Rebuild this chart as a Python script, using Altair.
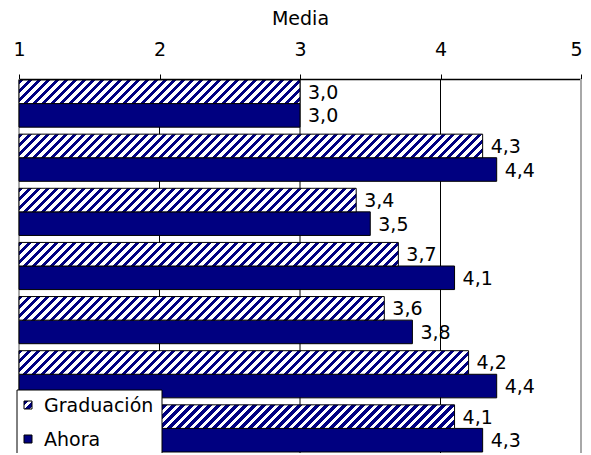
import altair as alt

# ---- data ----
CATS = ["1", "2", "3", "4", "5", "6", "7"]
SERIES = ["Graduación", "Ahora"]
GRAD = [3.0, 4.3, 3.4, 3.7, 3.6, 4.2, 4.1]
AHORA = [3.0, 4.4, 3.5, 4.1, 3.8, 4.4, 4.3]
TICKS = [1, 2, 3, 4, 5]
GRID_DARK = [2, 3, 4]
GRID_LIGHT = [1, 5]
X_MIN, X_MAX = 1, 5

# ---- style / layout ----
NAVY = "#000080"
FONT = "DejaVu Sans"
FS = 19
W = 562
H = 374
PI = 0.129
PO = 0.0185

step = H / (len(CATS) - PI + 2 * PO)
bar_h = step * (1 - PI) / 2
px = W / (X_MAX - X_MIN)


def hatch(w, h, period=9.0, frac=0.47, c=1.0):
    k = h / w
    dx = (1 + c * k) / (1 + c * c * k * k)
    dy = c * k * dx
    total = w + c * h
    n = total / period
    stops = []
    i = 0
    while i < n:
        a = round(i / n, 5)
        b = round(min((i + frac) / n, 1), 5)
        e = round(min((i + 1) / n, 1), 5)
        stops += [
            {"offset": a, "color": NAVY},
            {"offset": b, "color": NAVY},
            {"offset": b, "color": "white"},
            {"offset": e, "color": "white"},
        ]
        i += 1
    return {"gradient": "linear", "x1": 0, "y1": 0, "x2": dx, "y2": dy, "stops": stops}


rows = []
for c, g, a in zip(CATS, GRAD, AHORA):
    rows.append({"c": c, "s": SERIES[0], "v": g})
    rows.append({"c": c, "s": SERIES[1], "v": a})

x_scale = alt.Scale(domain=[X_MIN, X_MAX], nice=False, zero=False)
x_axis = alt.Axis(
    orient="top", values=TICKS, title="Media", grid=False, format="d",
    domainColor="black", domainWidth=1.5, tickColor="black", tickSize=5,
    labelFont=FONT, labelFontSize=FS, labelColor="black", labelPadding=15,
    labelFlush=False, labelBound=False,
    labelOffset={"condition": {"test": f"datum.value == {X_MAX}", "value": -5}, "value": 0},
    titleFont=FONT, titleFontSize=FS, titleFontWeight="normal",
    titleColor="black", titlePadding=12,
)
y_enc = alt.Y("c:N", scale=alt.Scale(domain=CATS, paddingInner=PI, paddingOuter=PO), axis=None)
yo_enc = alt.YOffset("s:N", scale=alt.Scale(domain=SERIES))

grid_dark = alt.Chart(alt.Data(values=[{"g": g} for g in GRID_DARK])).mark_rule(
    color="black", strokeWidth=1
).encode(x=alt.X("g:Q", scale=x_scale, axis=x_axis))

grid_light = alt.Chart(alt.Data(values=[{"g": g} for g in GRID_LIGHT])).mark_rule(
    color="#a8a8a8", strokeWidth=2
).encode(x=alt.X("g:Q", scale=x_scale, axis=x_axis))

solid = alt.Chart(alt.Data(values=rows)).transform_filter(
    alt.datum.s == SERIES[1]
).mark_bar(fill=NAVY, stroke="black", strokeWidth=1).encode(
    x=alt.X("v:Q", scale=x_scale, axis=x_axis), x2=alt.datum(X_MIN), y=y_enc, yOffset=yo_enc
)

hatched = []
for c, g in zip(CATS, GRAD):
    hatched.append(
        alt.Chart(alt.Data(values=[{"c": c, "s": SERIES[0], "v": g}])).mark_bar(
            fill=hatch((g - X_MIN) * px, bar_h), stroke="black", strokeWidth=1
        ).encode(
            x=alt.X("v:Q", scale=x_scale, axis=x_axis), x2=alt.datum(X_MIN), y=y_enc, yOffset=yo_enc
        )
    )

labels = alt.Chart(alt.Data(values=rows)).transform_calculate(
    label="replace(format(datum.v, '.1f'), '.', ',')"
).mark_text(align="left", baseline="middle", dx=8, dy=1, font=FONT, fontSize=FS, color="black").encode(
    x=alt.X("v:Q", scale=x_scale, axis=x_axis), y=y_enc, yOffset=yo_enc, text="label:N"
)

one = alt.Data(values=[{"k": 0}])
leg_box = alt.Chart(one).mark_rect(fill="white", stroke="black", strokeWidth=1).encode(
    x=alt.value(-2), x2=alt.value(143), y=alt.value(311), y2=alt.value(400)
)
leg_sw1 = alt.Chart(one).mark_rect(fill=hatch(8, 8, period=9, frac=0.5), stroke="black", strokeWidth=1).encode(
    x=alt.value(5), x2=alt.value(13), y=alt.value(322), y2=alt.value(330)
)
leg_sw2 = alt.Chart(one).mark_rect(fill=NAVY, stroke="black", strokeWidth=1).encode(
    x=alt.value(5), x2=alt.value(13), y=alt.value(356), y2=alt.value(364)
)
leg_t1 = alt.Chart(one).mark_text(align="left", baseline="middle", font=FONT, fontSize=FS, color="black").encode(
    x=alt.value(25), y=alt.value(327), text=alt.value(SERIES[0])
)
leg_t2 = alt.Chart(one).mark_text(align="left", baseline="middle", font=FONT, fontSize=FS, color="black").encode(
    x=alt.value(25), y=alt.value(361), text=alt.value(SERIES[1])
)

chart = alt.layer(
    grid_light, grid_dark, solid, *hatched, labels, leg_box, leg_sw1, leg_sw2, leg_t1, leg_t2
).properties(
    width=W, height=H, autosize="none",
    padding={"left": 11, "top": 71, "right": 2, "bottom": 0},
).configure_view(stroke=None).configure(background="white")

chart.save("out.html", embed_options={"renderer": "svg", "actions": False})
